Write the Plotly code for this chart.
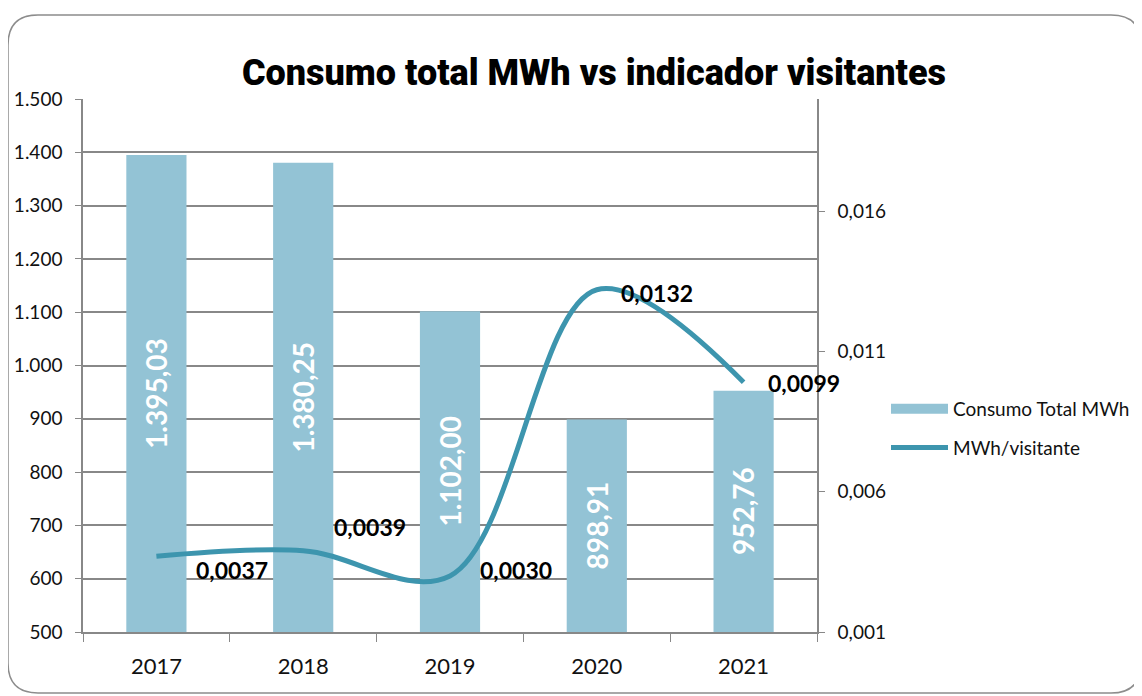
import plotly.graph_objects as go

years = ["2017", "2018", "2019", "2020", "2021"]
consumo = [1395.03, 1380.25, 1102.00, 898.91, 952.76]
mwh_visitante = [0.0037, 0.0039, 0.0030, 0.0132, 0.0099]
left_ticks = [500, 600, 700, 800, 900, 1000, 1100, 1200, 1300, 1400, 1500]
right_ticks = [0.001, 0.006, 0.011, 0.016]

# page offset of 8px (browser body margin) compensated
OFF = 8
W, H = 1142 - OFF, 696 - OFF
L, R, T, B = 83 - OFF, 817 - OFF, 99 - OFF, 632 - OFF

BAR_C = "#93C3D5"
LINE_C = "#3D95AE"
GRID_C = "#888888"
FONT = "Lato"
YMIN = 500

def fmt_es(v, d):
    s = f"{v:,.{d}f}"
    return s.replace(",", "X").replace(".", ",").replace("X", ".")

fig = go.Figure()
fig.add_trace(go.Bar(
    x=years, y=consumo, name="Consumo Total MWh",
    marker=dict(color=BAR_C, line=dict(width=0)),
    showlegend=False, hoverinfo="x+y",
))
# legend proxy for the bars (wide rectangle swatch)
fig.add_trace(go.Scatter(
    x=[None], y=[None], name="Consumo Total MWh", mode="lines",
    line=dict(color=BAR_C, width=13), legendgroup="a", showlegend=True,
))
fig.add_trace(go.Scatter(
    x=years, y=mwh_visitante, name="MWh/visitante", yaxis="y2",
    mode="lines", line=dict(color=LINE_C, width=5, shape="spline", smoothing=1.0),
    legendgroup="b",
))

# bar labels, centred in visible part of each bar, rotated
for i, v in enumerate(consumo):
    fig.add_annotation(x=i, y=(v + YMIN) / 2, xref="x", yref="y", text=fmt_es(v, 2),
                       textangle=-90, showarrow=False,
                       font=dict(family=FONT, size=28, color="white", weight="bold"))

# line data labels (pixel offsets)
offs = [(76, -14), (67, 24), (66, 6), (60, -3), (60, -1)]
for i, (yv, (dx, dy)) in enumerate(zip(mwh_visitante, offs)):
    fig.add_annotation(x=i, y=yv, yref="y2", xref="x", text=fmt_es(yv, 4),
                       showarrow=False, xshift=dx, yshift=dy,
                       font=dict(family=FONT, size=23, color="black", weight="bold"))

def px(x):
    return (x - OFF - L) / (R - L)

def py(y):
    return (B - (y - OFF)) / (B - T)

# rounded outer border
x0, y0, x1, y1, r = 8, 15, 1141, 693, 30
path = (f"M {px(x0+r):.5f},{py(y0):.5f} L {px(x1-r):.5f},{py(y0):.5f} "
        f"Q {px(x1):.5f},{py(y0):.5f} {px(x1):.5f},{py(y0+r):.5f} "
        f"L {px(x1):.5f},{py(y1-r):.5f} Q {px(x1):.5f},{py(y1):.5f} {px(x1-r):.5f},{py(y1):.5f} "
        f"L {px(x0+r):.5f},{py(y1):.5f} Q {px(x0):.5f},{py(y1):.5f} {px(x0):.5f},{py(y1-r):.5f} "
        f"L {px(x0):.5f},{py(y0+r):.5f} Q {px(x0):.5f},{py(y0):.5f} {px(x0+r):.5f},{py(y0):.5f} Z")
fig.add_shape(type="path", path=path, xref="paper", yref="paper",
              line=dict(color="#8C8C8C", width=1.5), layer="below")

fig.update_layout(
    width=W, height=H,
    margin=dict(l=L, r=W - R, t=T, b=H - B, autoexpand=False),
    paper_bgcolor="white", plot_bgcolor="white",
    separators=",.",
    bargap=0.59,
    font=dict(family=FONT, size=19, color="#111111"),
    title=dict(text="Consumo total MWh vs indicador visitantes",
               x=(594 - OFF) / W, xanchor="center", y=1 - (72 - OFF) / H, yanchor="middle",
               font=dict(family="Roboto", size=36, color="black", weight=900)),
    xaxis=dict(type="category", showline=True, linecolor=GRID_C, linewidth=1.5,
               ticks="outside", tickson="boundaries", ticklen=8, tickcolor=GRID_C,
               tickfont=dict(size=22), showgrid=False, tickangle=0, range=[-0.5, 4.5],
               ticklabelstandoff=14),
    yaxis=dict(range=[YMIN, 1500], tickvals=left_ticks, tickformat=",d",
               showline=True, linecolor=GRID_C, linewidth=1.5,
               ticks="outside", ticklen=6, tickcolor=GRID_C,
               showgrid=True, gridcolor=GRID_C, gridwidth=1.5,
               tickfont=dict(size=19), zeroline=False, ticklabelstandoff=9),
    yaxis2=dict(range=[0.001, 0.020], tickvals=right_ticks, tickformat=".3f",
                overlaying="y", side="right", showline=True, linecolor=GRID_C, linewidth=1.5,
                ticks="outside", ticklen=6, tickcolor=GRID_C, showgrid=False,
                tickfont=dict(size=19), zeroline=False, ticklabelstandoff=9),
    legend=dict(x=px(886), y=py(390), xanchor="left", yanchor="top",
                traceorder="grouped", tracegroupgap=11, itemwidth=57,
                font=dict(family=FONT, size=19, color="#111111"),
                bgcolor="rgba(0,0,0,0)"),
    showlegend=True,
)

fig.write_html("out.html")
